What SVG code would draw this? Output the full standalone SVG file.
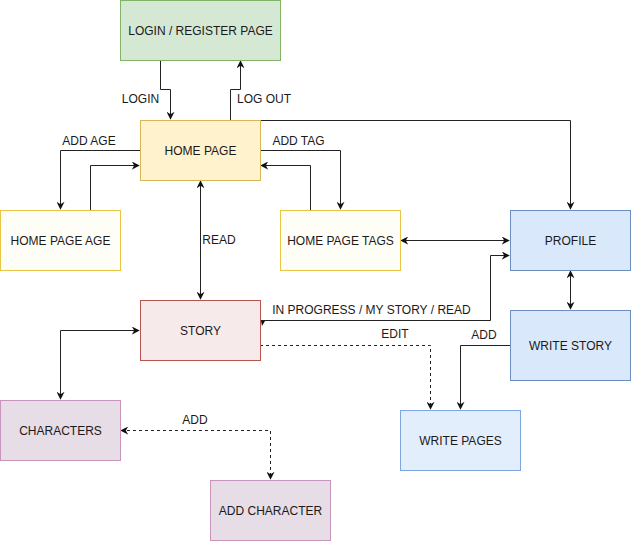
<svg xmlns="http://www.w3.org/2000/svg" width="631" height="541" viewBox="0 0 631 541">
<style>
text{font-family:"Liberation Sans",Arial,sans-serif;font-size:12px;fill:#1a1a1a;text-anchor:middle}
.e{fill:none;stroke:#222;stroke-width:1}
.d{stroke-dasharray:3 3}
.green{fill:#d5e8d4;stroke:#82b366}
.yellow{fill:#fff2cc;stroke:#d6b656}
.lyellow{fill:#fffef6;stroke:#e8c547}
.blue{fill:#dae8fc;stroke:#6c8ebf}
.lblue{fill:#e3eefc;stroke:#7ea6e0}
.red{fill:#f7eaea;stroke:#b85450}
.purple{fill:#e6dde6;stroke:#c994bd}
</style>
<defs>
<marker id="a" viewBox="0 0 10 10" refX="9" refY="5" markerWidth="8" markerHeight="8" orient="auto-start-reverse" markerUnits="userSpaceOnUse">
<path d="M0,0 L10,5 L0,10 L3,5 z" fill="#111"/>
</marker>
</defs>
<g id="connectors">
<path class="e" d="M160.5,60 V89.5 H170.5 V119" marker-end="url(#a)"/>
<path class="e" d="M230.5,120 V89.5 H240.5 V61" marker-end="url(#a)"/>
<path class="e" d="M260.5,120.5 H570.5 V209" marker-end="url(#a)"/>
<path class="e" d="M140,150.5 H60.5 V209" marker-end="url(#a)"/>
<path class="e" d="M90.5,210 V165.5 H139" marker-end="url(#a)"/>
<path class="e" d="M260,150.5 H340.5 V209" marker-end="url(#a)"/>
<path class="e" d="M310.5,210 V165.5 H261" marker-end="url(#a)"/>
<path class="e" d="M401,240.5 H509" marker-start="url(#a)" marker-end="url(#a)"/>
<path class="e" d="M200.5,181 V299" marker-start="url(#a)" marker-end="url(#a)"/>
<path class="e" d="M261,320.5 H490.5 V255.5 H509" marker-end="url(#a)"/>
<path d="M261,321 L265,321 L262,326 z" fill="#111"/>
<path class="e d" d="M260,345.5 H430.5 V409" marker-end="url(#a)"/>
<path class="e" d="M510,345.5 H460.5 V409" marker-end="url(#a)"/>
<path class="e" d="M570.5,271 V309" marker-start="url(#a)" marker-end="url(#a)"/>
<path class="e" d="M139,330.5 H60.5 V399" marker-start="url(#a)" marker-end="url(#a)"/>
<path class="e d" d="M121,430.5 H270.5 V479" marker-start="url(#a)" marker-end="url(#a)"/>
<text x="140.5" y="103">LOGIN</text>
<text x="264" y="103">LOG OUT</text>
<text x="89" y="145">ADD AGE</text>
<text x="298.5" y="145">ADD TAG</text>
<text x="219" y="244">READ</text>
<text x="371.5" y="314">IN PROGRESS / MY STORY / READ</text>
<text x="395" y="338">EDIT</text>
<text x="484" y="339">ADD</text>
<text x="195" y="424">ADD</text>
</g>
<g id="login"><rect class="green" x="120.5" y="0.5" width="160" height="60"/><text x="200.5" y="34.5">LOGIN / REGISTER PAGE</text></g>
<g id="home"><rect class="yellow" x="140.5" y="120.5" width="120" height="60"/><text x="200.5" y="154.5">HOME PAGE</text></g>
<g id="homeage"><rect class="lyellow" x="0.5" y="210.5" width="120" height="60"/><text x="60.5" y="244.5">HOME PAGE AGE</text></g>
<g id="hometags"><rect class="lyellow" x="280.5" y="210.5" width="120" height="60"/><text x="340.5" y="244.5">HOME PAGE TAGS</text></g>
<g id="profile"><rect class="blue" x="510.5" y="210.5" width="120" height="60"/><text x="570.5" y="244.5">PROFILE</text></g>
<g id="story"><rect class="red" x="140.5" y="300.5" width="120" height="60"/><text x="200.5" y="334.5">STORY</text></g>
<g id="writestory"><rect class="blue" x="510.5" y="310.5" width="120" height="70"/><text x="570.5" y="349.5">WRITE STORY</text></g>
<g id="writepages"><rect class="lblue" x="400.5" y="410.5" width="120" height="60"/><text x="460.5" y="444.5">WRITE PAGES</text></g>
<g id="characters"><rect class="purple" x="0.5" y="400.5" width="120" height="60"/><text x="60.5" y="434.5">CHARACTERS</text></g>
<g id="addcharacter"><rect class="purple" x="210.5" y="480.5" width="120" height="60"/><text x="270.5" y="514.5">ADD CHARACTER</text></g>
</svg>
